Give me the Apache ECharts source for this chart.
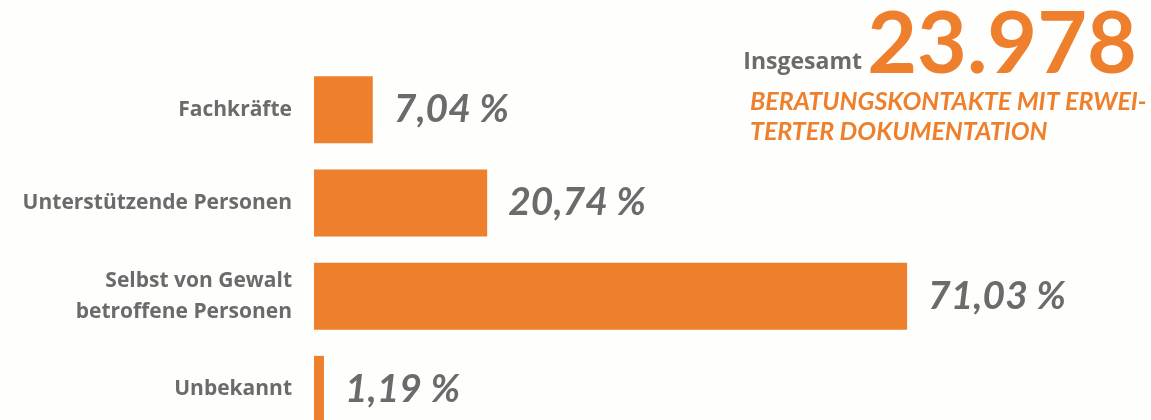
<!DOCTYPE html>
<html>
<head>
<meta charset="utf-8">
<script src="https://cdn.jsdelivr.net/npm/echarts@6/dist/echarts.min.js"></script>
<style>
    html, body { margin: 0; padding: 0; background: #fefefc; }
    #chart { width: 1151px; height: 420px; }
</style>
</head>
<body>
<div id="chart"></div>
<script>
const categories = ['Fachkräfte', 'Unterstützende Personen', 'Selbst von Gewalt\nbetroffene Personen', 'Unbekannt']
const shares = [7.04, 20.74, 71.03, 1.19]
const total = '23.978'

const orange = '#ee7f2d'
const grey = '#6b6b6b'
const font = 'Lato'
const labelFont = '"Open Sans"'

const myChart = echarts.init(document.getElementById('chart'))
myChart.setOption({
    backgroundColor: '#fefefc',
    animation: false,
    // the last bar runs past the bottom edge, so the grid may leave the canvas
    grid: { left: 314, right: 2, top: 63, height: 373, outerBoundsMode: 'none', containLabel: false },
    xAxis: {
        type: 'value',
        min: 0,
        max: 100,
        show: false
    },
    yAxis: {
        type: 'category',
        inverse: true,
        data: categories,
        axisLine: { show: false },
        axisTick: { show: false },
        axisLabel: {
            margin: 22,
            color: grey,
            fontFamily: labelFont,
            fontWeight: 'bold',
            fontSize: 21,
            lineHeight: 31,
            align: 'right'
        }
    },
    series: [{
        type: 'bar',
        data: shares,
        barWidth: 67,
        itemStyle: { color: orange },
        label: {
            show: true,
            position: 'right',
            distance: 21,
            color: grey,
            fontFamily: font,
            fontWeight: 'bold',
            fontStyle: 'italic',
            fontSize: 39,
            formatter: p => p.value.toFixed(2).replace('.', ',') + ' %'
        }
    }],
    graphic: [
        {
            type: 'text',
            right: 289,
            top: 51,
            style: { text: 'Insgesamt', fill: grey, font: 'bold 23px ' + labelFont }
        },
        {
            type: 'text',
            right: 14,
            top: 2,
            style: { text: total, fill: orange, font: 'bold 86px ' + font }
        },
        {
            type: 'text',
            left: 750,
            top: 87,
            style: {
                text: 'BERATUNGSKONTAKTE MIT ERWEI-\nTERTER DOKUMENTATION',
                fill: orange,
                font: 'italic bold 25px ' + font,
                lineHeight: 30
            }
        }
    ]
})
</script>
</body>
</html>
